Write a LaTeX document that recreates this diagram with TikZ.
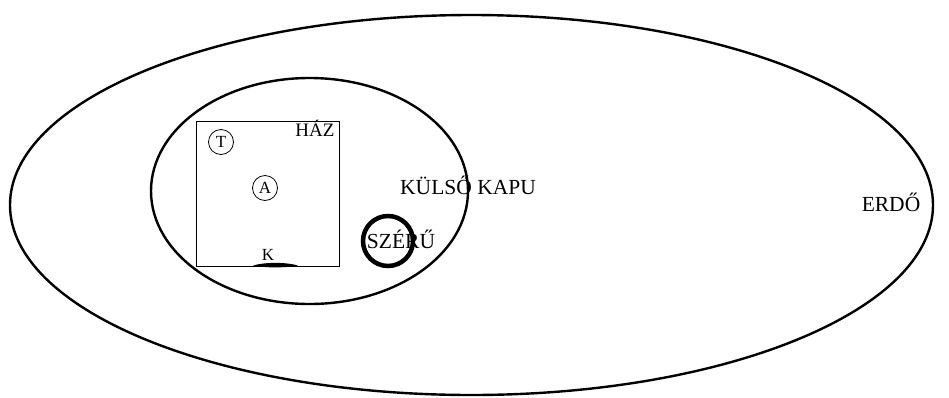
\documentclass[tikz,border=0pt]{standalone}
\usepackage{fontspec}
\setmainfont{Liberation Serif}
\begin{document}
\begin{tikzpicture}[x=1pt,y=-1pt,
  region/.style={draw=black,line width=2.4pt},
  lbl/.style={inner sep=0pt,font=\fontsize{21.5}{22}\selectfont},
  spot/.style={draw=black,circle,line width=0.8pt,minimum size=25pt,inner sep=0pt,font=\fontsize{17}{18}\selectfont}]
\useasboundingbox (0,0) rectangle (949,397);
% forest and outer yard
\draw[region] (471.5,205) ellipse [x radius=461.5, y radius=190];
\draw[region] (309.5,191) ellipse [x radius=158.5, y radius=113];
% house
\draw[black,line width=1pt] (196,121) rectangle (339,266);
\node[lbl,font=\fontsize{19}{20}\selectfont] (haz) at (315,128) {HÁZ};
\node[spot] (t) at (221,142) {T};
\node[spot] (a) at (265,188) {A};
\node[lbl,font=\fontsize{17}{18}\selectfont] (k) at (268,255) {K};
\fill[black] (253,265.5) .. controls (265,262) and (286,262) .. (298,265.5)
  .. controls (286,268) and (265,268) .. cycle;
% threshing floor
\draw[black,line width=4.5pt] (388,241) circle [radius=25];
\node[lbl] (szeru) at (401,239) {SZÉRŰ};
% gate and forest labels
\node[lbl] (kapu) at (468,185) {KÜLSŐ KAPU};
\node[lbl] (erdo) at (891,202) {ERDŐ};
\end{tikzpicture}
\end{document}
